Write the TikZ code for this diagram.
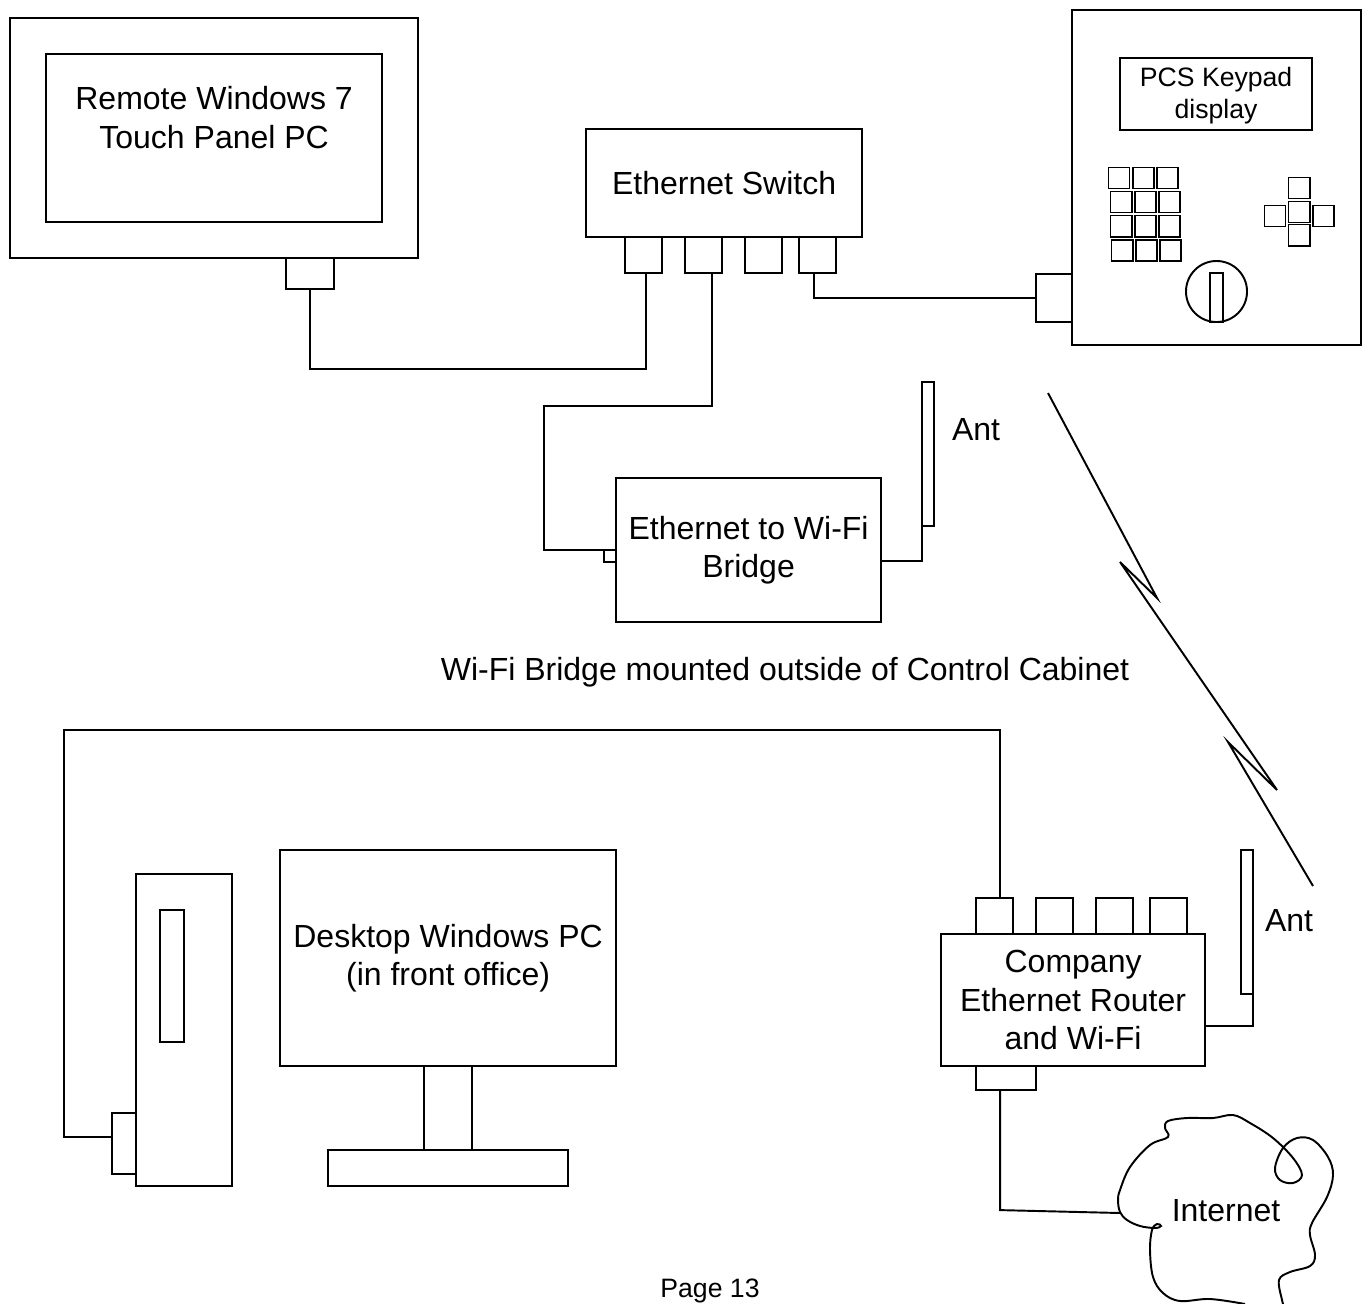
\documentclass[tikz,border=0pt]{standalone}
\usepackage{fontspec}
\setmainfont{Liberation Sans}
\usetikzlibrary{positioning}
\tikzstyle{box}  = [rectangle, draw=black, line width=0.55pt, inner sep=0pt,
                     outer sep=0pt, align=center]
\tikzstyle{port} = [box, minimum width=0.37cm, minimum height=0.36cm]
\tikzstyle{key}  = [box, minimum width=0.21cm, minimum height=0.21cm]
\tikzstyle{ant}  = [box, minimum width=0.12cm, minimum height=1.44cm]
\tikzstyle{wire} = [draw=black, line width=0.55pt, line join=miter]
\tikzstyle{small} = [font=\fontsize{7.57}{9.1}\selectfont]

\begin{document}
\begin{tikzpicture}[x=0.01cm, y=-0.01cm, font=\fontsize{9.1}{10.95}\selectfont,
    every node/.style={align=center}]

  \useasboundingbox (0,0) rectangle (1364,1303);

  \node[box, anchor=north west, minimum width=4.08cm, minimum height=2.4cm] (panel) at (10,18) {};
  \node[box, below right=0.36cm and 0.36cm of panel.north west, minimum width=3.36cm, minimum height=1.68cm] (screen) {};
  \node[below=0.2cm of screen.north] (panellbl) {Remote Windows 7\\Touch Panel PC};
  \node[box, below right=0cm and 2.76cm of panel.south west, minimum width=0.48cm, minimum height=0.31cm] (pcport) {};

  \node[box, anchor=north west, minimum width=2.76cm, minimum height=1.08cm] (sw) at (586,129) {Ethernet Switch};
  \node[port, below right=0cm and 0.39cm of sw.south west] (swa) {};
  \node[port, right=0.23cm of swa] (swb) {};
  \node[port, right=0.23cm of swb] (swc) {};
  \node[port, right=0.17cm of swc] (swd) {};

  \node[box, anchor=north west, minimum width=2.89cm, minimum height=3.35cm] (keypad) at (1072,10) {};
  \node[box, below right=0.48cm and 0.48cm of keypad.north west, minimum width=1.92cm, minimum height=0.72cm] (display) {};
  \node[small, yshift=-0.02cm] (displbl) at (display) {PCS Keypad\\display};
  \node[box, below left=2.64cm and 0cm of keypad.north west, minimum width=0.36cm, minimum height=0.48cm] (kpport) {};

  \node[key, anchor=north west] (ka) at (1108.5,167.5) {};
  \node[key, right=0.03cm of ka] (kb) {};
  \node[key, right=0.03cm of kb] (kc) {};
  \node[key, below=0.03cm of ka, xshift=0.02cm] (kd) {};
  \node[key, right=0.03cm of kd] (ke) {};
  \node[key, right=0.03cm of ke] (kf) {};
  \node[key, below=0.03cm of kd] (kg) {};
  \node[key, right=0.03cm of kg] (kh) {};
  \node[key, right=0.03cm of kh] (ki) {};
  \node[key, below=0.03cm of kg, xshift=0.01cm] (kj) {};
  \node[key, right=0.03cm of kj] (kk) {};
  \node[key, right=0.03cm of kk] (kl) {};

  \node[key, anchor=north west] (up) at (1288.5,177.5) {};
  \node[key, below=0.03cm of up] (mid) {};
  \node[key, left=0.03cm of mid, yshift=-0.04cm] (lft) {};
  \node[key, right=0.03cm of mid, yshift=-0.04cm] (rgt) {};
  \node[key, below=0.02cm of mid] (dwn) {};

  \node[box, circle, minimum size=0.61cm] (dial) at (1216.5,291.5) {};
  \node[box, anchor=south, minimum width=0.13cm, minimum height=0.49cm] (slot) at (dial.south) {};

  \node[box, anchor=north west, minimum width=2.65cm, minimum height=1.44cm] (bridge) at (616,478) {Ethernet to Wi-Fi\\Bridge};
  \node[box, below left=0cm and 0cm of bridge.west, minimum width=0.12cm, minimum height=0.12cm] (brport) {};
  \node[ant, anchor=north west] (anta) at (922,382) {};
  \node (antalbl) at (976,430) {Ant};
  \node (note) at (785,672) {Wi-Fi Bridge mounted outside of Control Cabinet};

  \node[box, anchor=north west, minimum width=0.96cm, minimum height=3.12cm] (tower) at (136,874) {};
  \node[box, below right=0.36cm and 0.24cm of tower.north west, minimum width=0.24cm, minimum height=1.32cm] (drive) {};
  \node[box, below left=2.39cm and 0cm of tower.north west, minimum width=0.24cm, minimum height=0.61cm] (twport) {};

  \node[box, anchor=north west, minimum width=3.36cm, minimum height=2.16cm] (monitor) at (280,850) {Desktop Windows PC\\(in front office)};
  \node[box, below=0cm of monitor, minimum width=0.48cm, minimum height=0.84cm] (neck) {};
  \node[box, below=0cm of neck, minimum width=2.4cm, minimum height=0.36cm] (base) {};

  \node[box, anchor=north west, minimum width=2.64cm, minimum height=1.32cm] (router) at (941,934) {Company\\Ethernet Router\\and Wi-Fi};
  \node[port, above right=0cm and 0.35cm of router.north west] (rta) {};
  \node[port, right=0.23cm of rta] (rtb) {};
  \node[port, right=0.23cm of rtb] (rtc) {};
  \node[port, right=0.17cm of rtc] (rtd) {};
  \node[box, below right=0cm and 0.35cm of router.south west, minimum width=0.6cm, minimum height=0.24cm] (rtport) {};
  \node[ant, anchor=north west] (antb) at (1241,850) {};
  \node (antblbl) at (1289,921) {Ant};

  \node (inet) at (1226,1211) {Internet};
  \node (page) at (710,1291) {\fontsize{7.57}{9.1}\selectfont Page 13};
  \coordinate (cloudw) at (1120,1213);
  \coordinate (bolta) at (1048,393);
  \coordinate (boltb) at (1313,886);

  \draw[wire] (pcport.south) -- ++(0,80) -| ([xshift=0.025cm]swa.south);
  \draw[wire] ([xshift=0.085cm]swb.south) |- ++(-168,133) |- (brport.north west);
  \draw[wire] ([xshift=-0.035cm]swd.south) |- (kpport.west);
  \draw[wire] ([yshift=-0.11cm]bridge.east) -| (anta.south west);
  \draw[wire] ([xshift=0.05cm]rta.north) |- ++(-936,-168) |- ([yshift=0.065cm]twport.west);
  \draw[wire] ([yshift=-0.26cm]router.east) -| (antb.south east);
  \draw[wire] ([xshift=-0.06cm]rtport.south) -- ++(0,120) -- (cloudw);
  \draw[wire] (bolta) -- (1157,598) -- (1120,562) -- (1277,790) -- (1228,742) -- (boltb);

  \draw[wire] plot[smooth, tension=0.6] coordinates {
    (1245,1304) (1210,1299) (1180,1301) (1163,1293) (1153,1277) (1150,1250)
    (1152,1230) (1157,1224) (1161,1226) (1155,1228) (1140,1226) (1127,1220)
    (1120,1212) (1118,1200) (1120,1190) (1130,1167) (1150,1145) (1168,1137)
    (1165,1128) (1168,1121) (1187,1118) (1213,1118) (1233,1115) (1250,1123)
    (1273,1138) (1293,1158) (1302,1175) (1293,1183) (1280,1180) (1275,1168)
    (1283,1148) (1297,1138) (1313,1140) (1328,1157) (1333,1175) (1327,1197)
    (1312,1223) (1310,1235) (1315,1255) (1310,1266) (1290,1272) (1279,1280)
    (1282,1300) (1284,1306)};

\end{tikzpicture}
\end{document}
